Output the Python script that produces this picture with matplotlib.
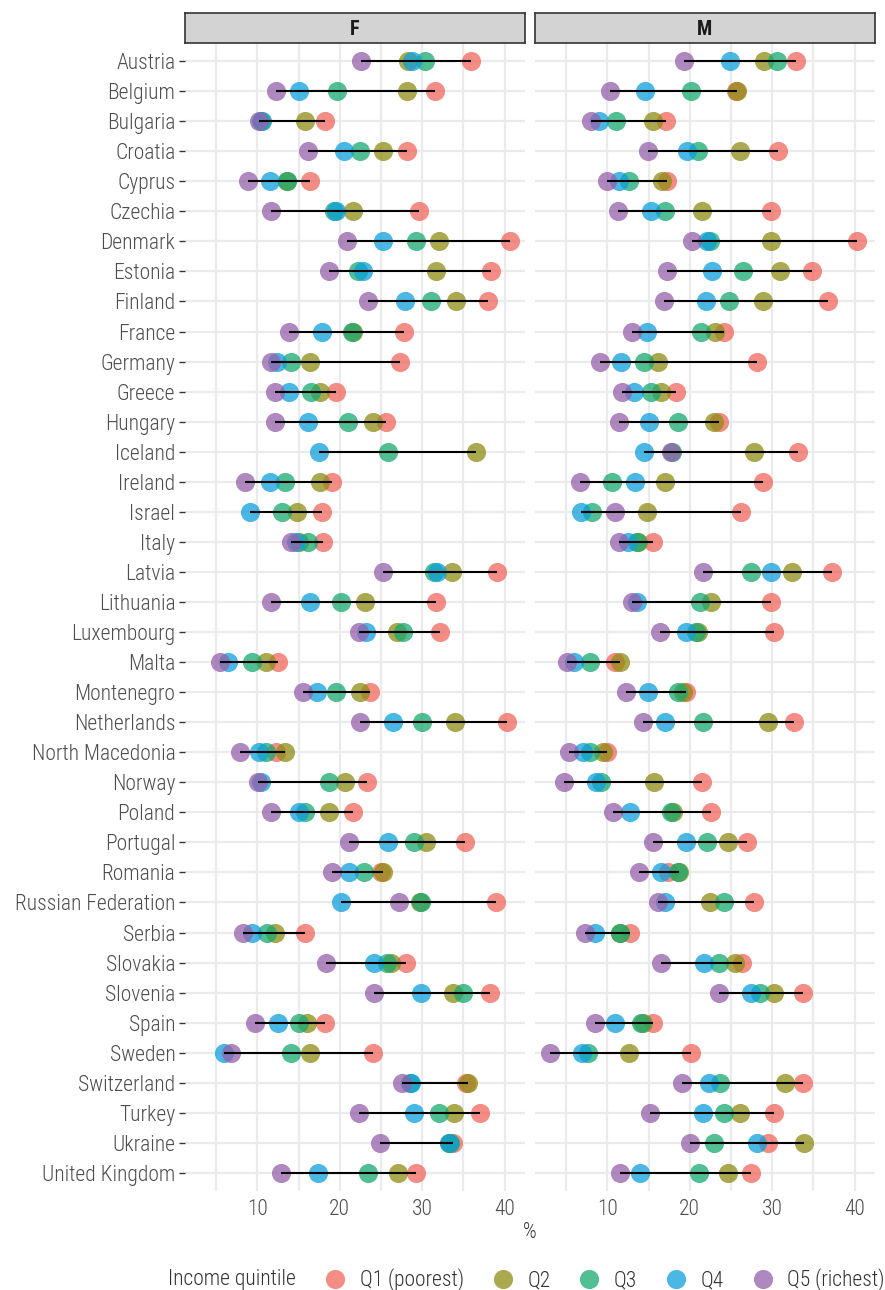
import numpy as np
import matplotlib
matplotlib.use("Agg")
import matplotlib.pyplot as plt
from matplotlib import font_manager
from matplotlib.lines import Line2D

# ================================
# DATA
# ================================

countries = ["Austria", "Belgium", "Bulgaria", "Croatia", "Cyprus", "Czechia", "Denmark",
             "Estonia", "Finland", "France", "Germany", "Greece", "Hungary", "Iceland",
             "Ireland", "Israel", "Italy", "Latvia", "Lithuania", "Luxembourg", "Malta",
             "Montenegro", "Netherlands", "North Macedonia", "Norway", "Poland", "Portugal",
             "Romania", "Russian Federation", "Serbia", "Slovakia", "Slovenia", "Spain",
             "Sweden", "Switzerland", "Turkey", "Ukraine", "United Kingdom"]

nan = np.nan
F_Q1 = [35.9, 31.6, 18.2, 28.2, 16.35, 29.65, 40.6, 38.3, 38.0, 27.8, 27.3, 19.55, 25.6, nan,
        19.0, 17.8, 18.0, 39.1, 31.7, 32.2, 12.5, 23.65, 40.3, 12.3, 23.3, 21.6, 35.2,
        25.0, 38.9, 15.8, 28.0, 38.2, 18.2, 24.0, 35.3, 37.0, 33.7, 29.3]
F_Q2 = [28.3, 28.1, 15.8, 25.3, 13.6, 21.6, 32.1, 31.7, 34.1, 21.6, 16.4, 17.65, 24.05, 36.55,
        17.6, 14.8, 15.0, 33.6, 23.1, 26.9, 11.1, 22.4, 34.0, 13.3, 20.6, 18.75, 30.5,
        25.2, 29.7, 12.2, 26.2, 33.8, 16.0, 16.35, 35.5, 33.9, 33.3, 27.1]
F_Q3 = [30.4, 19.7, 10.6, 22.5, 13.6, 19.3, 29.3, 22.2, 31.1, 21.5, 14.1, 16.5, 21.0, 25.9,
        13.3, 13.0, 16.1, 31.4, 20.1, 27.7, 9.3, 19.6, 30.0, 11.0, 18.7, 15.8, 29.05,
        22.9, 29.8, 11.2, 25.7, 35.0, 15.1, 14.1, 28.5, 32.0, 33.4, 23.45]
F_Q4 = [28.8, 15.0, 10.5, 20.5, 11.5, 19.6, 25.3, 22.8, 27.9, 17.8, 12.4, 13.8, 16.1, 17.45,
        11.5, 9.15, 14.7, 31.8, 16.4, 23.2, 6.4, 17.2, 26.4, 10.2, 10.5, 15.1, 25.8,
        21.1, 20.2, 9.35, 24.2, 29.8, 12.5, 5.9, 28.6, 29.0, 33.2, 17.4]
F_Q5 = [22.6, 12.3, 10.15, 16.2, 8.85, 11.6, 20.9, 18.7, 23.45, 13.85, 11.7, 12.2, 12.1, nan,
        8.45, nan, 14.1, 25.3, 11.6, 22.35, 5.5, 15.6, 22.4, 7.9, 10.1, 11.7, 21.1,
        19.0, 27.2, 8.3, 18.35, 24.1, 9.7, 6.8, 27.5, 22.3, 24.9, 12.9]

M_Q1 = [32.9, 25.6, 17.1, 30.75, 17.25, 29.9, 40.3, 34.8, 36.8, 24.1, 28.15, 18.3, 23.6, 33.1,
        28.85, 26.2, 15.5, 37.3, 29.9, 30.2, 10.9, 19.5, 32.7, 10.0, 21.5, 22.6, 26.9,
        17.4, 27.75, 12.75, 26.3, 33.8, 15.6, 20.2, 33.7, 30.2, 29.5, 27.4]
M_Q2 = [29.0, 25.7, 15.5, 26.1, 16.6, 21.5, 29.9, 31.0, 28.9, 23.1, 16.1, 16.5, 23.0, 27.8,
        16.95, 14.85, 13.7, 32.45, 22.6, 21.0, 11.5, 19.2, 29.5, 9.5, 15.7, 18.0, 24.7,
        18.75, 22.4, 11.5, 25.5, 30.2, 14.3, 12.6, 31.6, 26.1, 33.9, 24.7]
M_Q3 = [30.6, 20.1, 11.0, 21.0, 12.6, 17.0, 22.4, 26.45, 24.8, 21.4, 14.4, 15.3, 18.6, 17.85,
        10.6, 8.1, 13.6, 27.4, 21.2, 20.8, 7.9, 18.6, 21.55, 7.95, 9.25, 17.7, 22.1,
        18.6, 24.1, 11.5, 23.5, 28.5, 14.05, 7.7, 23.65, 24.2, 22.9, 21.1]
M_Q4 = [24.9, 14.6, 9.05, 19.7, 11.45, 15.3, 22.1, 22.7, 22.0, 14.8, 11.6, 13.2, 15.05, 14.4,
        13.3, 6.8, 12.5, 29.9, 13.6, 19.6, 5.95, 14.9, 17.0, 7.0, 8.65, 12.75, 19.5,
        16.5, 17.0, 8.5, 21.7, 27.4, 10.95, 6.95, 22.3, 21.6, 28.15, 13.95]
M_Q5 = [19.3, 10.35, 8.05, 14.9, 10.0, 11.25, 20.3, 17.2, 16.9, 13.0, 9.15, 11.8, 11.4, 17.7,
        6.65, 10.9, 11.4, 21.6, 13.05, 16.35, 5.1, 12.25, 14.3, 5.3, 4.7, 10.7, 15.6,
        13.9, 16.1, 7.35, 16.55, 23.5, 8.5, 3.1, 19.0, 15.2, 20.0, 11.5]

quintile_labels = ["Q1 (poorest)", "Q2", "Q3", "Q4", "Q5 (richest)"]
panels = {"F": [F_Q1, F_Q2, F_Q3, F_Q4, F_Q5],
          "M": [M_Q1, M_Q2, M_Q3, M_Q4, M_Q5]}

# ================================
# STYLE
# ================================

colors = ["#EF675C", "#8F8C14", "#18A86F", "#0D9FDC", "#9560AB"]
names = {f.name for f in font_manager.fontManager.ttflist}
font = "Roboto Condensed" if "Roboto Condensed" in names else "Roboto"
plt.rcParams["font.family"] = [font, "DejaVu Sans"]
fs = 15.5
text_col = "#4D4D4D"
grid_col = "#EBEBEB"

W, H = 885, 1290
fig = plt.figure(figsize=(W / 100, H / 100), dpi=100)

all_vals = np.array([v for qs in panels.values() for q in qs for v in q], dtype=float)
lo, hi = np.nanmin(all_vals), np.nanmax(all_vals)
pad = 0.05 * (hi - lo)
y = np.arange(len(countries))

left_px = {"F": 185, "M": 535}
for name, qs in panels.items():
    ax = fig.add_axes([left_px[name] / W, 1 - 1191 / H, 340 / W, (1191 - 43) / H])
    for q, c in zip(qs, colors):
        ax.scatter(q, y, s=190, color=c, alpha=0.75, linewidths=0, zorder=2)
    arr = np.array(qs, dtype=float)
    ax.hlines(y, np.nanmin(arr, axis=0), np.nanmax(arr, axis=0), color="black", lw=1.5, zorder=3)

    ax.set_xlim(lo - pad, hi + pad)
    ax.set_ylim(len(countries) - 0.4, -0.6)
    ax.set_xticks([10, 20, 30, 40])
    ax.set_xticks([5, 15, 25, 35], minor=True)
    ax.set_yticks(y)
    ax.grid(True, which="both", color=grid_col, lw=1.6, zorder=0)
    ax.set_axisbelow(True)
    for s in ax.spines.values():
        s.set_visible(False)
    ax.tick_params(axis="x", which="both", length=0, labelsize=fs, labelcolor=text_col, pad=6)
    for t in ax.get_xticklabels():
        t.set_fontweight("light")
    if name == "F":
        ax.set_yticklabels(countries, fontweight="light")
        ax.tick_params(axis="y", length=4, width=1, color="#333333", labelsize=fs,
                       labelcolor=text_col, pad=3)
    else:
        ax.tick_params(axis="y", length=0, labelleft=False)

    strip = fig.add_axes([left_px[name] / W, 1 - 43 / H, 340 / W, 30 / H])
    strip.set_facecolor("#D3D3D3")
    strip.set_xticks([])
    strip.set_yticks([])
    for s in strip.spines.values():
        s.set_color("#333333")
        s.set_linewidth(1.2)
    strip.text(0.5, 0.45, name, ha="center", va="center", fontsize=fs - 1,
               fontweight="bold", color="#1A1A1A")

fig.text(530 / W, 1 - 1232 / H, "%", ha="center", va="center", fontsize=fs,
         fontweight="light", color="#333333")

# legend
fig.text(168 / W, 1 - 1280 / H, "Income quintile", ha="left", va="center", fontsize=fs,
         fontweight="light", color="#333333")
handles = [Line2D([], [], marker="o", ls="", ms=13.8, color=c, alpha=0.75, markeredgewidth=0)
           for c in colors]
leg = fig.legend(handles, quintile_labels, loc="center left", bbox_to_anchor=(322 / W, 1 - 1280 / H),
                 ncol=5, frameon=False, fontsize=fs, handletextpad=0.55, columnspacing=1.2,
                 handlelength=1.2, labelcolor="#333333", borderaxespad=0, borderpad=0)
for t in leg.get_texts():
    t.set_fontweight("light")

fig.savefig("out.png", dpi=100, facecolor="white")
